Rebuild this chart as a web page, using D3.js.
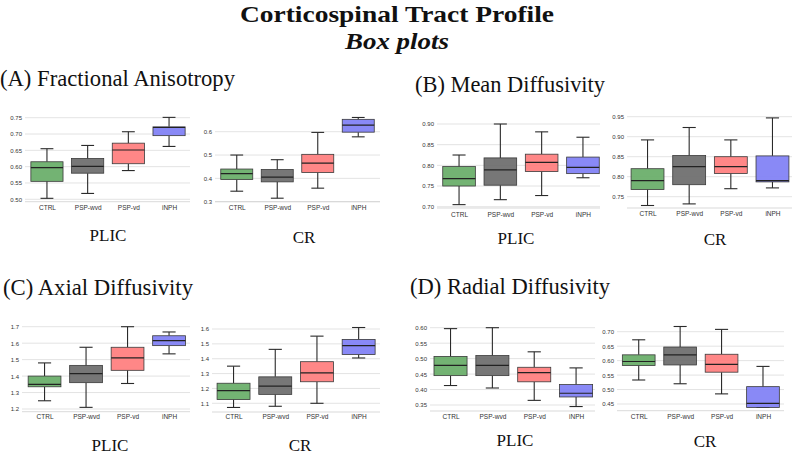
<!DOCTYPE html>
<html><head><meta charset="utf-8">
<script src="https://d3js.org/d3.v7.min.js"></script>
<style>body{margin:0;background:#fff}svg{display:block}</style>
</head><body>
<svg id="c" width="794" height="455"></svg>
<script>
// ---- data ----
const groups = ["CTRL", "PSP-wvd", "PSP-vd", "iNPH"];
// each row: [min, q1, median, q3, max]
const faPLIC = [[0.503,0.555,0.597,0.615,0.655],[0.518,0.580,0.601,0.625,0.665],[0.588,0.609,0.651,0.672,0.707],[0.662,0.695,0.720,0.722,0.751]];
const faCR   = [[0.345,0.395,0.420,0.440,0.500],[0.315,0.385,0.405,0.438,0.480],[0.358,0.425,0.465,0.503,0.597],[0.578,0.598,0.628,0.653,0.661]];
const mdPLIC = [[0.705,0.750,0.768,0.797,0.825],[0.717,0.752,0.789,0.818,0.900],[0.727,0.785,0.807,0.827,0.881],[0.770,0.780,0.795,0.820,0.868]];
const mdCR   = [[0.728,0.768,0.790,0.820,0.892],[0.732,0.780,0.825,0.853,0.923],[0.770,0.808,0.825,0.850,0.892],[0.772,0.787,0.790,0.852,0.947]];
const adPLIC = [[1.250,1.335,1.350,1.400,1.480],[1.210,1.360,1.415,1.465,1.575],[1.355,1.435,1.510,1.575,1.700],[1.535,1.585,1.615,1.645,1.668]];
const adCR   = [[1.072,1.125,1.185,1.235,1.350],[1.080,1.160,1.215,1.278,1.463],[1.100,1.245,1.305,1.380,1.552],[1.405,1.428,1.488,1.530,1.610]];
const rdPLIC = [[0.413,0.445,0.478,0.507,0.597],[0.405,0.445,0.478,0.510,0.600],[0.365,0.425,0.455,0.472,0.522],[0.345,0.376,0.388,0.416,0.470]];
const rdCR   = [[0.533,0.583,0.597,0.620,0.672],[0.520,0.585,0.620,0.647,0.718],[0.485,0.560,0.587,0.622,0.708],[0.438,0.438,0.452,0.510,0.580]];

const faPLICTicks = [0.50,0.55,0.60,0.65,0.70,0.75];
const faCRTicks   = [0.3,0.4,0.5,0.6];
const mdPLICTicks = [0.70,0.75,0.80,0.85,0.90];
const mdCRTicks   = [0.75,0.80,0.85,0.90,0.95];
const adPLICTicks = [1.2,1.3,1.4,1.5,1.6,1.7];
const adCRTicks   = [1.1,1.2,1.3,1.4,1.5,1.6];
const rdPLICTicks = [0.35,0.40,0.45,0.50,0.55,0.60];
const rdCRTicks   = [0.45,0.50,0.55,0.60,0.65,0.70];

const mainTitle = "Corticospinal Tract Profile";
const subTitle = "Box plots";
const sectionTitles = ["(A) Fractional Anisotropy", "(B) Mean Diffusivity", "(C) Axial Diffusivity", "(D) Radial Diffusivity"];
const regionLabels = ["PLIC", "CR"];

const colors = ["#67ad67", "#6b6b6b", "#ff7d7d", "#7f7ff5"];

// ---- layout ----
const svg = d3.select("#c");
const serif = "'Liberation Serif','Times New Roman',serif";
const sans = "'Liberation Sans',Arial,sans-serif";

svg.append("text").attr("x", 397).attr("y", 22).attr("text-anchor", "middle")
  .attr("font-family", serif).attr("font-weight", "bold").attr("font-size", 24)
  .attr("textLength", 314).attr("lengthAdjust", "spacingAndGlyphs").attr("fill", "#111").text(mainTitle);
svg.append("text").attr("x", 397).attr("y", 49).attr("text-anchor", "middle")
  .attr("font-family", serif).attr("font-weight", "bold").attr("font-style", "italic").attr("font-size", 24)
  .attr("textLength", 104).attr("lengthAdjust", "spacingAndGlyphs").attr("fill", "#111").text(subTitle);

const secPos = [[0, 86, 235], [415, 92, 190], [3, 295, 190], [410, 294, 200]];
sectionTitles.forEach((t, i) => {
  svg.append("text").attr("x", secPos[i][0]).attr("y", secPos[i][1])
    .attr("font-family", serif).attr("font-size", 22.5)
    .attr("textLength", secPos[i][2]).attr("lengthAdjust", "spacingAndGlyphs")
    .attr("fill", "#111").text(t);
});

const panels = [
  {data: faPLIC, ticks: faPLICTicks, fmt: ".2f", xr: [26.6, 189.4], g: [25, 190], yp: [199.3, 117.7], base: 201.7, lab: 209, reg: 0, rx: 108, ry: 241},
  {data: faCR,   ticks: faCRTicks,   fmt: ".1f", xr: [216.5, 378.5], g: [215, 380], yp: [201.7, 131.7], base: 201.7, lab: 209, reg: 1, rx: 304, ry: 243},
  {data: mdPLIC, ticks: mdPLICTicks, fmt: ".2f", xr: [438.4, 603.6], g: [437, 600], yp: [206.7, 124],   base: 208,   lab: 216, reg: 0, rx: 516, ry: 244},
  {data: mdCR,   ticks: mdCRTicks,   fmt: ".2f", xr: [626.7, 793.3], g: [627, 792], yp: [196.7, 116.7], base: 208,   lab: 215, reg: 1, rx: 715, ry: 245},
  {data: adPLIC, ticks: adPLICTicks, fmt: ".1f", xr: [23.8, 189.8],  g: [22, 190],  yp: [409, 326.7],   base: 411.7, lab: 418, reg: 0, rx: 110, ry: 451},
  {data: adCR,   ticks: adCRTicks,   fmt: ".1f", xr: [212.7, 379.5], g: [212, 380], yp: [403.3, 329],   base: 412,   lab: 418, reg: 1, rx: 300, ry: 451},
  {data: rdPLIC, ticks: rdPLICTicks, fmt: ".2f", xr: [429.6, 597],   g: [430, 595], yp: [405, 327.7],   base: 411,   lab: 418, reg: 0, rx: 515, ry: 446},
  {data: rdCR,   ticks: rdCRTicks,   fmt: ".2f", xr: [618, 783.7],   g: [617, 784], yp: [404, 331.7],   base: 410.7, lab: 418, reg: 1, rx: 705, ry: 447}
];

panels.forEach(p => {
  const t = p.ticks;
  const y = d3.scaleLinear().domain([t[0], t[t.length - 1]]).range(p.yp);
  const x = d3.scalePoint().domain(groups).range(p.xr).padding(0.5);
  const step = x.step();
  const bw = step * 0.79;
  const cw = bw * 0.4;
  const g = svg.append("g");

  // grid lines
  g.selectAll(".grid").data(t).join("line")
    .attr("x1", p.g[0]).attr("x2", p.g[1])
    .attr("y1", d => y(d)).attr("y2", d => y(d))
    .attr("stroke", "#dcdcdc").attr("stroke-width", 0.8);
  g.append("line").attr("x1", p.g[0]).attr("x2", p.g[1]).attr("y1", p.base).attr("y2", p.base)
    .attr("stroke", "#cfcfcf").attr("stroke-width", 0.8);

  // y axis labels via d3 axis
  const ax = g.append("g").attr("transform", `translate(${p.g[0] - 3},0)`)
    .call(d3.axisLeft(y).tickValues(t).tickFormat(d3.format(p.fmt)).tickSize(0).tickPadding(0));
  ax.select(".domain").remove();
  ax.selectAll("text").attr("font-family", sans).attr("font-size", 6).attr("fill", "#333");

  // x axis labels
  const xa = g.append("g").attr("transform", `translate(0,${p.lab - 4})`)
    .call(d3.axisBottom(x).tickSize(0).tickPadding(0));
  xa.select(".domain").remove();
  xa.selectAll("text").attr("font-family", sans).attr("font-size", 6.5).attr("fill", "#333");

  // boxes
  p.data.forEach((s, i) => {
    const cx = x(groups[i]);
    const [mn, q1, md, q3, mx] = s;
    const bg = g.append("g");
    bg.append("line").attr("x1", cx).attr("x2", cx).attr("y1", y(q3)).attr("y2", y(mx)).attr("stroke", "#2a2a2a").attr("stroke-width", 1.1);
    bg.append("line").attr("x1", cx).attr("x2", cx).attr("y1", y(q1)).attr("y2", y(mn)).attr("stroke", "#2a2a2a").attr("stroke-width", 1.1);
    bg.append("line").attr("x1", cx - cw / 2).attr("x2", cx + cw / 2).attr("y1", y(mx)).attr("y2", y(mx)).attr("stroke", "#2a2a2a").attr("stroke-width", 1.1);
    bg.append("line").attr("x1", cx - cw / 2).attr("x2", cx + cw / 2).attr("y1", y(mn)).attr("y2", y(mn)).attr("stroke", "#2a2a2a").attr("stroke-width", 1.1);
    bg.append("rect").attr("x", cx - bw / 2).attr("width", bw)
      .attr("y", y(q3)).attr("height", Math.max(0.5, y(q1) - y(q3)))
      .attr("fill", colors[i]).attr("fill-opacity", 0.92).attr("stroke", "#3a3a3a").attr("stroke-width", 0.8);
    bg.append("line").attr("x1", cx - bw / 2).attr("x2", cx + bw / 2).attr("y1", y(md)).attr("y2", y(md)).attr("stroke", "#222").attr("stroke-width", 1.2);
  });

  svg.append("text").attr("x", p.rx).attr("y", p.ry).attr("text-anchor", "middle")
    .attr("font-family", serif).attr("font-size", 17).attr("fill", "#111").text(regionLabels[p.reg]);
});
</script>
</body></html>
